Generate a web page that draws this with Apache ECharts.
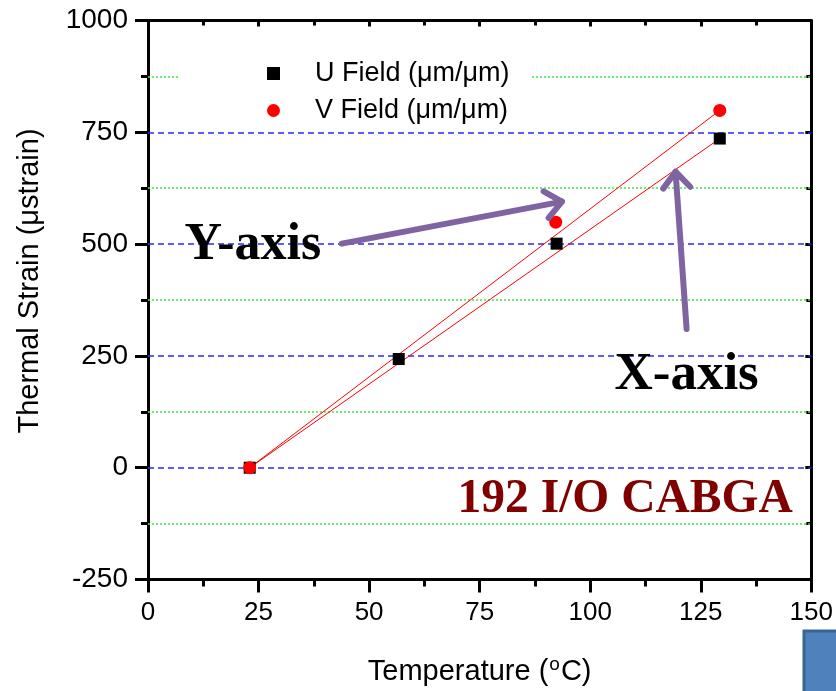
<!DOCTYPE html>
<html>
<head>
<meta charset="utf-8">
<script src="https://cdn.jsdelivr.net/npm/echarts@6/dist/echarts.min.js"></script>
<style>
html, body { margin: 0; padding: 0; background: #fff; }
#chart { width: 836px; height: 691px; }
</style>
</head>
<body>
<div id="chart"></div>
<script>
// thermal strain vs temperature, 192 I/O CABGA
var uName = 'U Field (\u03bcm/\u03bcm)';
var vName = 'V Field (\u03bcm/\u03bcm)';
var uField = [[23, 0], [56.7, 243], [92.4, 501], [129.3, 736]];
var vField = [[23, 0], [92.2, 549], [129.3, 799]];
var uFit = [[23, 0], [129.3, 736]];
var vFit = [[23, 0], [129.3, 799]];
var xTicks = [0, 25, 50, 75, 100, 125, 150];
var yTicks = [-250, 0, 250, 500, 750, 1000];
var majorGrid = [0, 250, 500, 750];
var minorGrid = [-125, 125, 375, 625, 875];

// annotations, anchored in data units
var notes = [
  { text: 'Y-axis', at: [23.7, 497], color: '#000', size: 52 },
  { text: 'X-axis', at: [121.8, 206], color: '#000', size: 53 },
  { text: '192 I/O CABGA', at: [107.9, -72], color: '#800000', size: 47.5 }
];
var arrows = [
  { from: [43.8, 501], to: [93.6, 595] },
  { from: [121.8, 310], to: [119.3, 662] }
];

var sans = 'Arial, "Liberation Sans", sans-serif';
var serif = '"Times New Roman", "Liberation Serif", serif';
var black = '#000';

var chartDom = document.getElementById('chart');
var myChart = echarts.init(chartDom);
var option;

function frameAxis(ticks, pos, outer) {
  return {
    type: 'value',
    position: pos,
    min: ticks[0],
    max: ticks[ticks.length - 1],
    interval: ticks[1] - ticks[0],
    axisLine: { show: true, onZero: false, lineStyle: { color: black, width: 3 } },
    axisTick: { show: true, inside: !outer, length: outer ? 13 : 6, lineStyle: { color: black, width: 3 } },
    minorTick: { show: true, splitNumber: 2, length: outer ? 7 : 5, lineStyle: { color: black, width: 3 } },
    axisLabel: {
      show: outer, color: black, fontFamily: sans, fontSize: 26, margin: 20,
      formatter: function (v) { return String(v); }
    },
    splitLine: { show: false },
    minorSplitLine: { show: false },
    splitArea: { show: false }
  };
}

var xBottom = frameAxis(xTicks, 'bottom', true);
xBottom.name = '{a|Temperature (}{s|o}{a|C)}';
xBottom.nameLocation = 'middle';
xBottom.nameGap = 76;
xBottom.nameTextStyle = {
  rich: {
    a: { fontFamily: sans, fontSize: 29, color: black },
    s: { fontFamily: sans, fontSize: 19, color: black, padding: [0, 1, 13, 1] }
  }
};

var yLeft = frameAxis(yTicks, 'left', true);
yLeft.axisLabel.fontSize = 28;
yLeft.name = 'Thermal Strain (\u03bcstrain)';
yLeft.nameLocation = 'middle';
yLeft.nameGap = 104;
yLeft.nameTextStyle = { fontFamily: sans, fontSize: 29, color: black, padding: [0, 0, 0, 38] };

// reference lines: blue dashed at major values, green dotted between
var gridLines = majorGrid.map(function (v) {
  return { yAxis: v, lineStyle: { color: '#2a2aff', width: 1.5, type: [6, 4] } };
}).concat(minorGrid.map(function (v) {
  return { yAxis: v, lineStyle: { color: '#3ee83e', width: 1.5, type: [2, 2] } };
}));

option = {
  animation: false,
  backgroundColor: '#fff',
  grid: { left: 148, right: 23, top: 20.5, bottom: 110.5, containLabel: false },
  xAxis: [xBottom, frameAxis(xTicks, 'top', false)],
  yAxis: [yLeft, frameAxis(yTicks, 'right', false)],
  legend: {
    orient: 'vertical',
    left: 178,
    top: 54,
    padding: [6, 22, 8, 89],
    backgroundColor: '#fff',
    itemWidth: 13,
    itemHeight: 13,
    itemGap: 10,
    z: 10,
    data: [uName, vName],
    formatter: function (name) { return '{t|' + name + '}'; },
    textStyle: {
      color: black,
      fontFamily: sans,
      fontSize: 27,
      rich: { t: { color: black, fontFamily: sans, fontSize: 27, lineHeight: 30, padding: [0, 0, 0, 30] } }
    }
  },
  series: [
    {
      type: 'line',
      data: uFit,
      symbol: 'none',
      lineStyle: { color: '#ff0000', width: 1 },
      z: 3,
      markLine: {
        silent: true,
        symbol: ['none', 'none'],
        label: { show: false },
        emphasis: { disabled: true },
        animation: false,
        z: 1,
        data: gridLines
      }
    },
    {
      type: 'line',
      data: vFit,
      symbol: 'none',
      lineStyle: { color: '#ff0000', width: 1 },
      z: 3
    },
    {
      name: uName,
      type: 'scatter',
      data: uField,
      symbol: 'rect',
      symbolSize: 12,
      itemStyle: { color: black, opacity: 1 },
      z: 4
    },
    {
      name: vName,
      type: 'scatter',
      data: vField,
      symbol: 'circle',
      symbolSize: 13,
      itemStyle: { color: '#ff0000', opacity: 1 },
      z: 5
    }
  ]
};

option && myChart.setOption(option);

// annotations on top of the plot
var graphics = [];
notes.forEach(function (n) {
  var p = myChart.convertToPixel({ gridIndex: 0 }, n.at);
  graphics.push({
    type: 'text',
    x: p[0],
    y: p[1],
    z: 20,
    style: {
      text: n.text,
      fill: n.color,
      font: 'bold ' + n.size + 'px ' + serif,
      align: 'center',
      verticalAlign: 'middle',
      textAlign: 'center',
      textVerticalAlign: 'middle'
    }
  });
});

arrows.forEach(function (a) {
  var s = myChart.convertToPixel({ gridIndex: 0 }, a.from);
  var t = myChart.convertToPixel({ gridIndex: 0 }, a.to);
  var ang = Math.atan2(s[1] - t[1], s[0] - t[0]);
  var arm = 21, spread = 0.7;
  var p1 = [t[0] + arm * Math.cos(ang + spread), t[1] + arm * Math.sin(ang + spread)];
  var p2 = [t[0] + arm * Math.cos(ang - spread), t[1] + arm * Math.sin(ang - spread)];
  var st = { stroke: '#8064a2', lineWidth: 6, lineCap: 'round', lineJoin: 'round', fill: null };
  graphics.push({ type: 'line', z: 19, shape: { x1: s[0], y1: s[1], x2: t[0], y2: t[1] }, style: st });
  graphics.push({ type: 'polyline', z: 19, shape: { points: [p1, t, p2] }, style: st });
});

// corner of a slide shape peeking in
graphics.push({
  type: 'rect',
  z: 20,
  shape: { x: 804, y: 631, width: 40, height: 70 },
  style: { fill: '#4f81bd', stroke: '#3b6496', lineWidth: 3 }
});

myChart.setOption({ graphic: graphics });
</script>
</body>
</html>
